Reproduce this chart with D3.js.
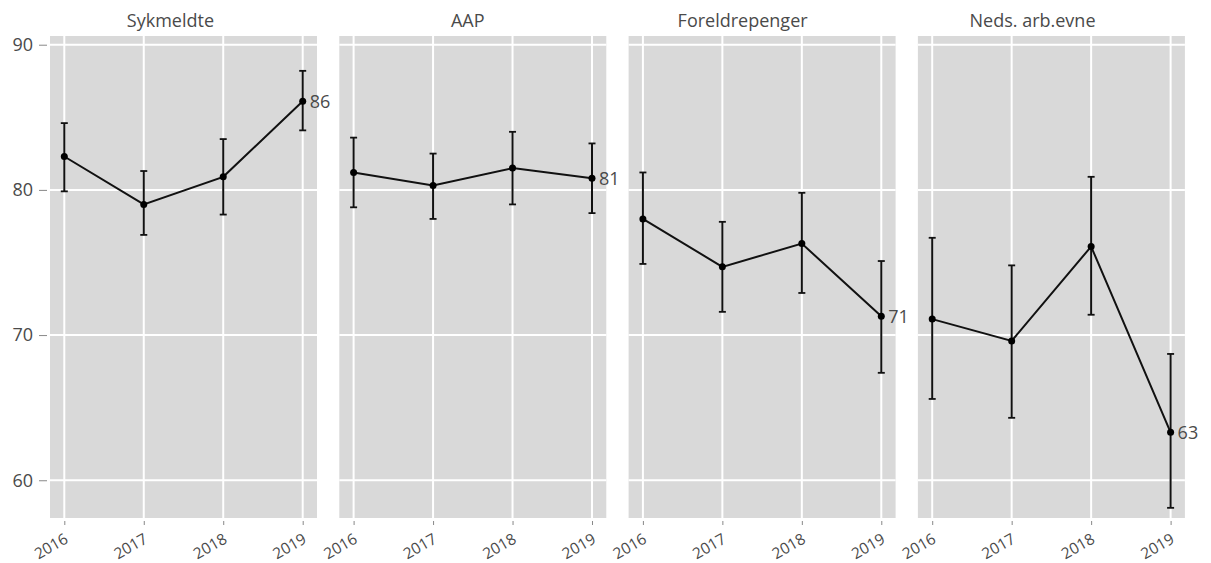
<!DOCTYPE html>
<html>
<head>
<meta charset="utf-8">
<script src="https://cdn.jsdelivr.net/npm/d3@7"></script>
<style>
  body { margin: 0; background: #fff; }
  svg { display: block; font-family: "Open Sans", sans-serif; }
</style>
</head>
<body>
<div id="chart"></div>
<script>
// data
const years = ["2016", "2017", "2018", "2019"];
const panelNames = ["Sykmeldte", "AAP", "Foreldrepenger", "Neds. arb.evne"];
const yTicks = [60, 70, 80, 90];

const sykmeldte = [82.3, 79.0, 80.9, 86.1];
const sykmeldteLow = [79.9, 76.9, 78.3, 84.1];
const sykmeldteHigh = [84.6, 81.3, 83.5, 88.2];

const aap = [81.2, 80.3, 81.5, 80.8];
const aapLow = [78.8, 78.0, 79.0, 78.4];
const aapHigh = [83.6, 82.5, 84.0, 83.2];

const foreldre = [78.0, 74.7, 76.3, 71.3];
const foreldreLow = [74.9, 71.6, 72.9, 67.4];
const foreldreHigh = [81.2, 77.8, 79.8, 75.1];

const neds = [71.1, 69.6, 76.1, 63.3];
const nedsLow = [65.6, 64.3, 71.4, 58.1];
const nedsHigh = [76.7, 74.8, 80.9, 68.7];

const series = [
  { name: panelNames[0], est: sykmeldte, lo: sykmeldteLow, hi: sykmeldteHigh },
  { name: panelNames[1], est: aap, lo: aapLow, hi: aapHigh },
  { name: panelNames[2], est: foreldre, lo: foreldreLow, hi: foreldreHigh },
  { name: panelNames[3], est: neds, lo: nedsLow, hi: nedsHigh },
];

const width = 1211, height = 563;
const panelTop = 36, panelBottom = 518;
const firstLeft = 50, panelW = 267, step = 289.3;
const textColor = "#4a4a4a";

const svg = d3.select("#chart").append("svg")
  .attr("width", width).attr("height", height);

const y = d3.scaleLinear().domain([57.4, 90.6]).range([panelBottom, panelTop]);

// y axis on the left only
const yAxis = svg.append("g")
  .attr("transform", `translate(${firstLeft - 3},0)`)
  .call(d3.axisLeft(y).tickValues(yTicks).tickSize(8).tickPadding(6));
yAxis.select(".domain").remove();
yAxis.selectAll("line").attr("stroke", "#888");
yAxis.selectAll("text")
  .attr("fill", textColor)
  .style("font-size", "18px")
  .style("font-family", "'Open Sans', sans-serif");

series.forEach((s, i) => {
  const left = firstLeft + i * step;
  const x = d3.scalePoint().domain(years).range([left, left + panelW]).padding(0.18);
  const g = svg.append("g");

  g.append("rect")
    .attr("x", left).attr("y", panelTop)
    .attr("width", panelW).attr("height", panelBottom - panelTop)
    .attr("fill", "#d9d9d9");

  g.selectAll(".hgrid").data(yTicks).enter().append("line")
    .attr("x1", left).attr("x2", left + panelW)
    .attr("y1", (d) => y(d)).attr("y2", (d) => y(d))
    .attr("stroke", "#fff").attr("stroke-width", 2);

  g.selectAll(".vgrid").data(years).enter().append("line")
    .attr("x1", (d) => x(d)).attr("x2", (d) => x(d))
    .attr("y1", panelTop).attr("y2", panelBottom)
    .attr("stroke", "#fff").attr("stroke-width", 2);

  // title (sits a little left of centre, like the original)
  const title = g.append("text")
    .attr("x", left + panelW / 2).attr("y", 27)
    .attr("text-anchor", "middle")
    .attr("fill", textColor)
    .style("font-size", "18px")
    .text(s.name);
  const tl = title.node().getComputedTextLength();
  title.attr("dx", -0.15 * tl);

  // x axis
  const xAxis = g.append("g")
    .attr("transform", `translate(0,${panelBottom + 3})`)
    .call(d3.axisBottom(x).tickSize(4).tickPadding(4));
  xAxis.select(".domain").remove();
  xAxis.selectAll("line").attr("stroke", "#888");
  xAxis.selectAll("text")
    .attr("fill", textColor)
    .style("font-size", "15.5px")
    .style("font-family", "'Open Sans', sans-serif")
    .attr("text-anchor", "end")
    .attr("dy", "0.3em")
    .attr("transform", "translate(-2,10) rotate(-30)");

  const pts = years.map((yr, j) => ({ yr, est: s.est[j], lo: s.lo[j], hi: s.hi[j] }));

  // error bars
  const eb = g.selectAll(".eb").data(pts).enter().append("g");
  eb.append("line")
    .attr("x1", (d) => x(d.yr)).attr("x2", (d) => x(d.yr))
    .attr("y1", (d) => y(d.lo)).attr("y2", (d) => y(d.hi))
    .attr("stroke", "#111").attr("stroke-width", 2);
  eb.append("line")
    .attr("x1", (d) => x(d.yr) - 3.5).attr("x2", (d) => x(d.yr) + 3.5)
    .attr("y1", (d) => y(d.lo)).attr("y2", (d) => y(d.lo))
    .attr("stroke", "#111").attr("stroke-width", 1.8);
  eb.append("line")
    .attr("x1", (d) => x(d.yr) - 3.5).attr("x2", (d) => x(d.yr) + 3.5)
    .attr("y1", (d) => y(d.hi)).attr("y2", (d) => y(d.hi))
    .attr("stroke", "#111").attr("stroke-width", 1.8);

  // line
  const line = d3.line().x((d) => x(d.yr)).y((d) => y(d.est));
  g.append("path")
    .datum(pts)
    .attr("d", line)
    .attr("fill", "none")
    .attr("stroke", "#111")
    .attr("stroke-width", 2);

  g.selectAll(".pt").data(pts).enter().append("circle")
    .attr("cx", (d) => x(d.yr)).attr("cy", (d) => y(d.est))
    .attr("r", 3.5).attr("fill", "#000");

  // end label
  const last = pts[pts.length - 1];
  g.append("text")
    .attr("x", x(last.yr) + 7).attr("y", y(last.est))
    .attr("dy", "0.36em")
    .attr("fill", textColor)
    .style("font-size", "18px")
    .text(Math.round(last.est));
});
</script>
</body>
</html>
